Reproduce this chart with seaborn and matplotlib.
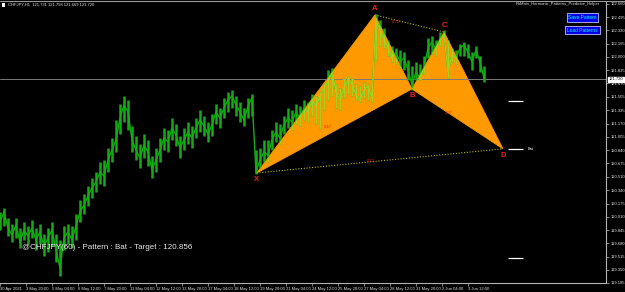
import numpy as np
import pandas as pd
import matplotlib
matplotlib.use("Agg")
import matplotlib.pyplot as plt
import seaborn as sns
from matplotlib.patches import Polygon
from matplotlib.lines import Line2D
import matplotlib.transforms as mtransforms

sns.set_theme(style="dark")
plt.rcParams['font.family'] = ['Liberation Sans', 'DejaVu Sans']

# ---------------- data ----------------
close_price = [
    119.945, 120.070, 119.871, 119.783, 119.908, 119.696, 119.846, 119.771, 119.871, 119.721,
    119.821, 119.646, 119.746, 119.846, 119.597, 119.372, 119.746, 119.821, 119.721, 119.895,
    120.070, 120.157, 120.269, 120.369, 120.443, 120.568, 120.518, 120.717, 120.842, 120.966,
    121.240, 121.402, 121.315, 120.966, 120.842, 120.742, 120.904, 120.817, 120.593, 120.717,
    120.842, 120.991, 120.942, 121.116, 121.029, 120.867, 120.966, 121.066, 120.991, 121.116,
    121.215, 121.141, 121.041, 121.153, 121.315, 121.240, 121.365, 121.465, 121.514, 121.402,
    121.315, 121.215, 121.390, 121.489, 120.568, 120.717, 120.817, 120.780, 120.966, 121.066,
    120.991, 121.153, 121.240, 121.191, 121.315, 121.240, 121.365, 121.315, 121.465, 121.390,
    121.514, 121.614, 121.689, 121.813, 121.564, 121.465, 121.614, 121.714, 121.664, 121.527,
    121.465, 121.589, 121.639, 121.489, 122.461, 122.336, 122.212, 122.112, 121.988, 122.062,
    121.938, 121.988, 121.838, 121.651, 121.813, 121.738, 121.863, 122.112, 122.187, 122.087,
    122.237, 122.274, 121.813, 122.025, 121.988, 122.112, 122.149, 122.062, 121.938, 122.087,
    121.938, 121.738,
]
high_price = [
    120.070, 120.120, 119.995, 119.920, 119.995, 119.871, 119.945, 119.896, 119.970, 119.871,
    119.920, 119.796, 119.871, 119.945, 119.796, 119.721, 119.896, 119.920, 119.896, 120.045,
    120.219, 120.294, 120.394, 120.493, 120.568, 120.693, 120.717, 120.867, 120.991, 121.216,
    121.415, 121.515, 121.465, 121.141, 121.016, 120.917, 121.041, 120.966, 120.767, 120.867,
    120.991, 121.116, 121.091, 121.240, 121.166, 121.016, 121.116, 121.191, 121.141, 121.240,
    121.340, 121.265, 121.191, 121.290, 121.415, 121.365, 121.490, 121.564, 121.589, 121.515,
    121.440, 121.365, 121.490, 121.540, 120.842, 120.867, 120.966, 120.966, 121.091, 121.191,
    121.166, 121.265, 121.365, 121.340, 121.415, 121.390, 121.465, 121.440, 121.540, 121.515,
    121.564, 121.664, 121.838, 121.863, 121.664, 121.614, 121.739, 121.764, 121.739, 121.664,
    121.640, 121.689, 121.664, 121.614, 122.536, 122.461, 122.361, 122.212, 122.137, 122.112,
    122.087, 122.062, 121.963, 121.888, 121.938, 121.913, 122.013, 122.237, 122.262, 122.212,
    122.312, 122.336, 122.212, 122.112, 122.087, 122.162, 122.187, 122.162, 122.062, 122.137,
    122.013, 121.888,
]
low_price = [
    119.846, 119.896, 119.771, 119.696, 119.746, 119.622, 119.721, 119.671, 119.746, 119.597,
    119.671, 119.522, 119.572, 119.647, 119.447, 119.273, 119.597, 119.671, 119.622, 119.721,
    119.945, 120.045, 120.145, 120.244, 120.319, 120.419, 120.394, 120.568, 120.693, 120.817,
    121.041, 121.191, 121.091, 120.817, 120.717, 120.618, 120.742, 120.643, 120.493, 120.568,
    120.693, 120.842, 120.817, 120.966, 120.892, 120.742, 120.842, 120.917, 120.867, 120.991,
    121.066, 121.016, 120.942, 121.016, 121.166, 121.116, 121.240, 121.315, 121.365, 121.265,
    121.191, 121.141, 121.240, 121.265, 120.543, 120.618, 120.693, 120.693, 120.842, 120.942,
    120.917, 121.041, 121.116, 121.091, 121.166, 121.141, 121.216, 121.191, 121.265, 121.166,
    121.116, 121.340, 121.465, 121.515, 121.365, 121.340, 121.490, 121.540, 121.515, 121.465,
    121.440, 121.490, 121.465, 121.440, 121.963, 122.137, 122.112, 122.013, 121.938, 121.913,
    121.863, 121.838, 121.714, 121.589, 121.714, 121.714, 121.788, 121.988, 122.038, 122.013,
    122.137, 122.187, 121.739, 121.938, 121.913, 122.013, 122.013, 121.988, 121.838, 121.988,
    121.813, 121.689,
]
# one sample every 6.5th of a 32-hour label step (hourly bar index)
bars = [i * 32 / 6.5 for i in range(len(close_price))]

time_labels = ['30 Apr 2021', '3 May 20:00', '5 May 04:00', '6 May 12:00', '7 May 20:00',
               '11 May 04:00', '12 May 12:00', '13 May 20:00', '17 May 04:00', '18 May 12:00',
               '19 May 20:00', '21 May 04:00', '24 May 12:00', '25 May 20:00', '27 May 04:00',
               '28 May 12:00', '31 May 20:00', '2 Jun 04:00', '3 Jun 12:00']
time_ticks = [0, 32, 64, 96, 128, 160, 192, 224, 256, 288, 320, 352, 384, 416, 448, 480, 512, 544, 576]

price_labels = ['122.660', '122.495', '122.330', '122.165', '122.000', '121.835', '121.670',
                '121.505', '121.335', '121.170', '121.005', '120.840', '120.675', '120.510',
                '120.340', '120.175', '120.010', '119.845', '119.680', '119.515', '119.350',
                '119.185']

pat_names = ['X', 'A', 'B', 'C', 'D']
pat_bar = [316, 461.5, 507, 546.5, 619]
pat_price = [120.555, 122.523, 121.601, 122.311, 120.856]

ratio_text = ['0.72', '0.47', '2.07', '0.73']
ratio_bar = [487, 404, 552, 456]
ratio_price = [122.440, 121.125, 121.300, 120.705]

current_price = 121.720
level_prices = [121.452, 120.856, 119.497]
target_text = '@CHFJPY(60) - Pattern : Bat - Target : 120.856'

# ---------------- figure ----------------
W, H = 625, 292
fig = plt.figure(figsize=(W / 100, H / 100), dpi=100, facecolor='black')
ax = fig.add_axes([0, 9 / H, 606 / W, 282 / H])
ax.set_facecolor('black')
ax.set_xlim(0, 606 / 0.8125)
ax.set_ylim(119.186, 122.697)

df = pd.DataFrame({'bar': bars, 'price': close_price, 'high': high_price, 'low': low_price})

orange = '#ff9900'
green = '#14ac14'
green_on_orange = '#a6d020'
polys = []
for tri in ([0, 1, 2], [2, 3, 4]):
    xy = [(pat_bar[i], pat_price[i]) for i in tri]
    p = Polygon(xy, closed=True, facecolor=orange, edgecolor=orange, lw=0.6, zorder=1)
    ax.add_patch(p)
    polys.append(p)

# price bars (high-low ranges) + close line
ax.vlines(df['bar'], df['low'], df['high'], color=green, lw=1.8, zorder=2)
sns.lineplot(data=df, x='bar', y='price', ax=ax, color=green, lw=1.0,
             estimator=None, sort=False, zorder=2)
for p in polys:
    vl = ax.vlines(df['bar'], df['low'], df['high'], color=green_on_orange, lw=1.8, zorder=3)
    vl.set_clip_path(p)
    sns.lineplot(data=df, x='bar', y='price', ax=ax, color=green_on_orange, lw=1.0,
                 estimator=None, sort=False, zorder=3)
    ax.lines[-1].set_clip_path(p)

# dotted connectors
ax.plot([pat_bar[1], pat_bar[3]], [pat_price[1], pat_price[3]], ls=(0, (1, 1.5)),
        color='#b4b41e', lw=0.8, zorder=4)
ax.plot([pat_bar[0], pat_bar[4]], [pat_price[0], pat_price[4]], ls=(0, (1, 1.5)),
        color='#b4b41e', lw=0.8, zorder=4)

# point labels
offs = {'X': -5, 'A': 5, 'B': -5, 'C': 4.5, 'D': -4.5}
for n, b, pr in zip(pat_names, pat_bar, pat_price):
    ax.annotate(n, (b, pr), xytext=(0, offs[n]), textcoords='offset points',
                ha='center', va='center', color='#ff1a1a', fontsize=5.5,
                fontweight='bold', zorder=6)
for t, b, pr in zip(ratio_text, ratio_bar, ratio_price):
    ax.text(b, pr, t, color='#ff2020', fontsize=3, ha='center', va='center', zorder=6)

# current price line
ax.axhline(current_price, color='#7a7a7a', lw=0.7, zorder=1.5)
trans = mtransforms.blended_transform_factory(ax.transAxes, ax.transData)
ax.text(1.005, current_price, '121.720', transform=trans, fontsize=3, color='black',
        ha='left', va='center', clip_on=False,
        bbox=dict(boxstyle='square,pad=0.15', fc='white', ec='white'), zorder=8)

# white levels
ax.hlines(level_prices, 625, 644, color='white', lw=0.9, zorder=5)
ax.text(650, level_prices[1], 'Bat', color='white', fontsize=2.8, va='center')

# axes styling
for s in ['top', 'left']:
    ax.spines[s].set_visible(False)
for s in ['right', 'bottom']:
    ax.spines[s].set_color('#b4b4b4')
    ax.spines[s].set_linewidth(0.8)
ax.grid(False)
ax.set_xlabel('')
ax.set_ylabel('')
ax.set_xticks(time_ticks)
ax.set_xticklabels(time_labels, ha='left')
ax.set_yticks([float(v) for v in price_labels])
ax.set_yticklabels(price_labels)
ax.yaxis.tick_right()
ax.tick_params(axis='y', right=True, left=False, length=2, width=0.5, color='#b4b4b4',
               labelsize=3, labelcolor='#e0e0e0', pad=1.5)
ax.tick_params(axis='x', bottom=True, length=2, width=0.5, color='#b4b4b4',
               labelsize=3, labelcolor='#e0e0e0', pad=1)

# texts
ax.text(22 / 0.8125, 119.622, target_text, color='#e8e8e8', fontsize=5.8, va='center', zorder=7)
fig.add_artist(Line2D([0, 1], [1 - 0.5 / H, 1 - 0.5 / H], transform=fig.transFigure,
                      color='#9a9a9a', lw=0.8))
fig.text(8 / W, 1 - 4.5 / H, 'CHFJPY,H1  121.731 121.758 121.669 121.720', color='#e0e0e0',
         fontsize=3, va='center', ha='left')
fig.patches.append(plt.Rectangle((2 / W, 1 - 6.5 / H), 3 / W, 3.5 / H, transform=fig.transFigure,
                                 facecolor='white', edgecolor='none'))
fig.text(600 / W, 1 - 4.5 / H, 'PoMain_Harmonic_Patterns_Predictor_Helper', color='#e0e0e0',
         fontsize=3, va='center', ha='right')
for label, yc in [('Save Pattern', 17.5), ('Load Patterns', 30)]:
    fig.text(582.5 / W, 1 - yc / H, label, color='#00ffff', fontsize=3.5, ha='center', va='center',
             bbox=dict(boxstyle='square,pad=0.35', fc='#0000e6', ec='#c0c0ff', lw=0.6))

fig.savefig('out.png', dpi=100, facecolor='black')
